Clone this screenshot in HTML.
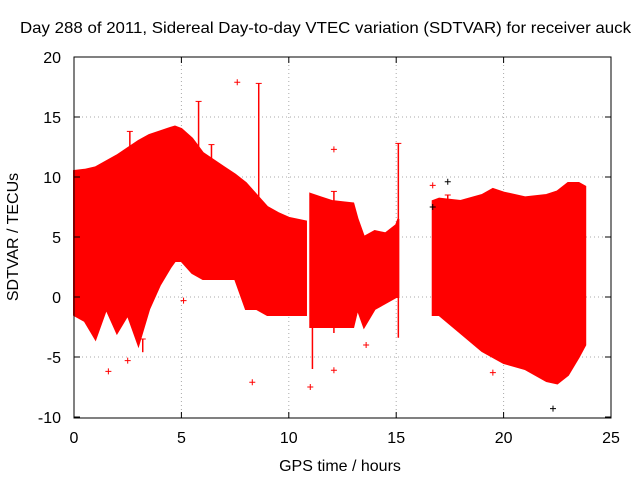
<!DOCTYPE html>
<html><head><meta charset="utf-8"><style>
body{margin:0;background:#fff}
svg{display:block;font-family:"Liberation Sans",sans-serif}
</style></head><body>
<svg id="c" width="640" height="480">
<text x="20" y="33" font-size="16" textLength="611" lengthAdjust="spacingAndGlyphs">Day 288 of 2011, Sidereal Day-to-day VTEC variation (SDTVAR) for receiver auck</text>
<text x="340" y="471" font-size="16" text-anchor="middle">GPS time / hours</text>
<text x="18" y="237" font-size="16" text-anchor="middle" transform="rotate(-90 18 237)">SDTVAR / TECUs</text>
<g id="grid"></g><g id="data"></g><g id="axes"></g>
</svg>
<script>
const xTicks=[0,5,10,15,20,25];
const yTicks=[-10,-5,0,5,10,15,20];
const seg1T=[0,0.5,1,1.5,2,2.5,3,3.5,4,4.5,4.7,5,5.5,6,6.5,7,7.5,8,8.5,9,9.5,10,10.8];
const seg1Hi=[10.5,10.6,10.8,11.3,11.8,12.4,13,13.5,13.8,14.1,14.2,14,13.2,12,11.4,10.8,10.2,9.5,8.5,7.5,7,6.6,6.3];
const seg1Lo=[-1.5,-2,-3.5,-1,-3,-1.5,-4,-1,1,2.5,3,3,2,1.5,1.5,1.5,1.5,-1,-1,-1.5,-1.5,-1.5,-1.5];
const seg2T=[11,11.5,12,12.5,13,13.2,13.5,14,14.5,15,15.1];
const seg2Hi=[8.6,8.3,8,7.9,7.8,6.5,5,5.5,5.3,6,6.5];
const seg2Lo=[-2.5,-2.5,-2.5,-2.5,-2.5,-1,-2.5,-1,-0.5,0,0];
const seg3T=[16.7,17,18,19,19.5,20,21,22,22.5,23,23.5,23.8];
const seg3Hi=[8,8.2,8,8.5,9,8.7,8.3,8.5,8.8,9.5,9.5,9.2];
const seg3Lo=[-1.5,-1.5,-3,-4.5,-5,-5.5,-6,-7,-7.2,-6.5,-5,-4];
const spikeT=[8.6,5.8,15.1,2.6,6.4,11.1,12.1,3.2,17.4];
const spikeHi=[17.8,16.3,12.8,13.8,12.7,8.5,8.8,-3.5,8.5];
const spikeLo=[8,12,-3.4,10,11,-6,-3,-4.6,5];
const outT=[7.6,8.3,11.0,12.1,12.1,13.6,1.6,2.5,0.4,5.1,19.5,16.7];
const outV=[17.9,-7.1,-7.5,-6.1,12.3,-4,-6.2,-5.3,-1,-0.3,-6.3,9.3];
const blkT=[17.4,22.3,16.7];
const blkV=[9.6,-9.3,7.5];
const X=t=>74+t*(611-74)/25;
const Y=v=>297-v*(297-57)/20;
const NS="http://www.w3.org/2000/svg";
function mk(tag,p,at){const e=document.createElementNS(NS,tag);for(const k in at)e.setAttribute(k,at[k]);p.appendChild(e);return e;}
const g=document.getElementById('grid'),d=document.getElementById('data'),a=document.getElementById('axes');
xTicks.forEach(t=>{
 if(t>0&&t<25){const l=mk('line',g,{x1:X(t),x2:X(t),y1:57,y2:418,stroke:'#aaa','stroke-dasharray':'1,3'});
 }
 const tx=mk('text',a,{x:X(t),y:443,'font-size':16,'text-anchor':'middle'});tx.textContent=t;
 
 mk('line',a,{x1:X(t),x2:X(t),y1:418,y2:412,stroke:'#000'});mk('line',a,{x1:X(t),x2:X(t),y1:57,y2:63,stroke:'#000'});
});
yTicks.forEach(v=>{
 if(v>-10&&v<20){const l=mk('line',g,{x1:74,x2:611,y1:Y(v),y2:Y(v),stroke:'#aaa','stroke-dasharray':'1,3'});
 }
 const tx=mk('text',a,{x:61,y:Y(v)+6,'font-size':16,'text-anchor':'end'});tx.textContent=v;
 
 mk('line',a,{x1:74,x2:80,y1:Y(v),y2:Y(v),stroke:'#000'});mk('line',a,{x1:605,x2:611,y1:Y(v),y2:Y(v),stroke:'#000'});
});
const fr=mk('rect',a,{x:74,y:57,width:537,height:361,fill:'none',stroke:'#000'});

[[seg1T,seg1Hi,seg1Lo],[seg2T,seg2Hi,seg2Lo],[seg3T,seg3Hi,seg3Lo]].forEach(([T,H,L],i)=>{
 let pts=T.map((t,j)=>X(t)+','+Y(H[j]));
 for(let j=T.length-1;j>=0;j--)pts.push(X(T[j])+','+Y(L[j]));
 const p=mk('polygon',d,{points:pts.join(' '),fill:'#f00',stroke:'#f00','stroke-width':2});
 
});
spikeT.forEach((t,i)=>{
 const l=mk('line',d,{x1:X(t),x2:X(t),y1:Y(spikeHi[i]),y2:Y(spikeLo[i]),stroke:'#f00','stroke-width':1.5});
 
 mk('line',d,{x1:X(t)-3,x2:X(t)+3,y1:Y(spikeHi[i]),y2:Y(spikeHi[i]),stroke:'#f00'});
});
function cross(t,v,col,name){
 const p=mk('path',d,{d:`M${X(t)-3},${Y(v)}h6M${X(t)},${Y(v)-3}v6`,stroke:col,'stroke-width':1});
 
}
outT.forEach((t,i)=>cross(t,outV[i],'#f00','outlier-point'));
blkT.forEach((t,i)=>cross(t,blkV[i],'#000','black-outlier-point'));
</script>
</body></html>
